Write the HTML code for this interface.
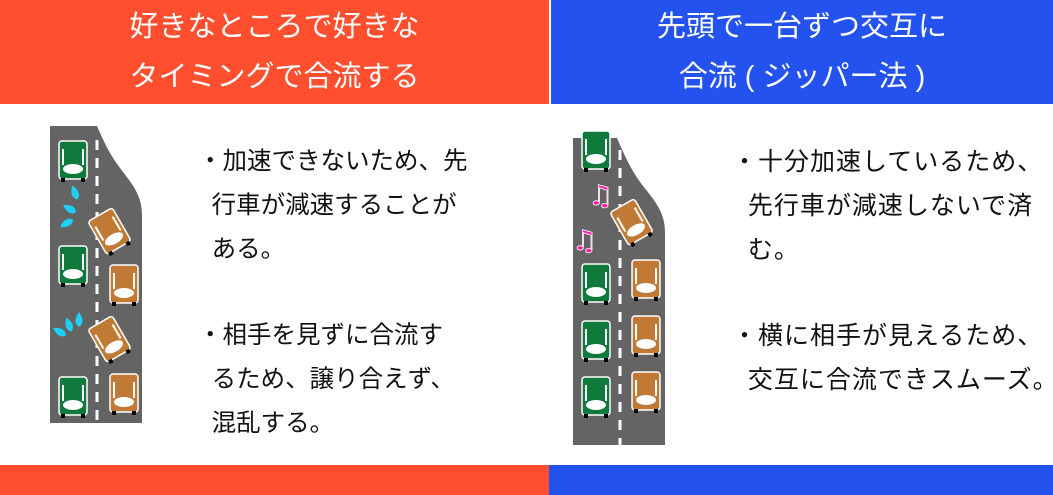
<!DOCTYPE html>
<html><head><meta charset="utf-8"><style>
html,body{margin:0;padding:0;width:1053px;height:495px;overflow:hidden;background:#fff;}
body{position:relative;font-family:"Liberation Sans","Noto Sans CJK JP",sans-serif;}
.h{position:absolute;top:0;height:104px;color:#fff;font-size:29px;text-align:center;line-height:50px;padding-top:2px;box-sizing:border-box;}
.t{position:absolute;font-size:24.5px;color:#111;line-height:44px;white-space:nowrap;}
.r{font-size:25px;letter-spacing:1px;}
svg{position:absolute;left:0;top:0;}
</style></head><body>
<div class="h" style="left:0;width:549px;background:#ff4f2e;">好きなところで好きな<br>タイミングで合流する</div>
<div class="h" style="left:551px;width:502px;background:#2352ee;">先頭で一台ずつ交互に<br>合流 ( ジッパー法 )</div>
<div style="position:absolute;left:0;top:465px;width:549px;height:30px;background:#ff4f2e"></div>
<div style="position:absolute;left:549px;top:465px;width:504px;height:30px;background:#2352ee"></div>

<div class="t" style="left:198px;top:140px;">・加速できないため、先<br>&nbsp;&nbsp;行車が減速することが<br>&nbsp;&nbsp;ある。</div>
<div class="t" style="left:198px;top:314px;">・相手を見ずに合流す<br>&nbsp;&nbsp;るため、譲り合えず、<br>&nbsp;&nbsp;混乱する。</div>
<div class="t r" style="left:732px;top:140px;">・十分加速しているため、<br>&nbsp;&nbsp;先行車が減速しないで済<br>&nbsp;&nbsp;む。</div>
<div class="t r" style="left:732px;top:314px;">・横に相手が見えるため、<br>&nbsp;&nbsp;交互に合流できスムーズ。</div>

<svg width="1053" height="495">
<defs>
<g id="car">
<rect x="-14" y="-20" width="28" height="38" rx="3" stroke="#fff" stroke-width="1.5"/>
<rect x="-12" y="17" width="4" height="4" fill="#000"/><rect x="8" y="17" width="4" height="4" fill="#000"/>
<path d="M-10,-12 v16 M10,-12 v16" stroke="#fff" stroke-width="2" fill="none"/>
<ellipse cx="0" cy="8" rx="10" ry="5" fill="#fff"/>
</g>
<g id="drop"><path d="M0,-8 Q7,2 0,7 Q-7,2 0,-8Z" fill="#1ed0f5"/></g>
</defs>
<path d="M50,126 L97,126 C103,140 110,155 120,168 C132,184 142,195 142,215 L142,423 L50,423Z" fill="#646464"/>
<line x1="97" y1="140" x2="97" y2="423" stroke="#fff" stroke-width="3" stroke-dasharray="10,8"/>
<use href="#car" x="73" y="161" fill="#0f7a3c"/>
<use href="#car" x="73" y="266" fill="#0f7a3c"/>
<use href="#car" x="73" y="397" fill="#0f7a3c"/>
<use href="#car" x="124" y="285" fill="#c17a35"/>
<use href="#car" x="124" y="394" fill="#c17a35"/>
<use href="#car" transform="translate(110,232) rotate(-30)" fill="#c17a35"/>
<use href="#car" transform="translate(110,340) rotate(-30)" fill="#c17a35"/>
<use href="#drop" transform="translate(75,193) rotate(-20)"/>
<use href="#drop" transform="translate(70,209) rotate(-60)"/>
<use href="#drop" transform="translate(67,223) rotate(-120)"/>
<use href="#drop" transform="translate(60,332) rotate(-60)"/>
<use href="#drop" transform="translate(69,325) rotate(-20)"/>
<use href="#drop" transform="translate(79,320)"/>
<path d="M573,138 L617,138 C623,152 630,168 640,182 C652,198 665,210 665,232 L665,445 L573,445Z" fill="#646464"/>
<line x1="620" y1="150" x2="620" y2="445" stroke="#fff" stroke-width="3" stroke-dasharray="10,8"/>
<use href="#car" x="596" y="151" fill="#0f7a3c"/>
<use href="#car" x="596" y="284" fill="#0f7a3c"/>
<use href="#car" x="596" y="341" fill="#0f7a3c"/>
<use href="#car" x="596" y="397" fill="#0f7a3c"/>
<use href="#car" x="646" y="280" fill="#c17a35"/>
<use href="#car" x="646" y="336" fill="#c17a35"/>
<use href="#car" x="646" y="392" fill="#c17a35"/>
<use href="#car" transform="translate(632,223) rotate(-30)" fill="#c17a35"/>
<text x="588" y="205" font-size="28" font-family="DejaVu Sans" fill="#ff1aa8" stroke="#fff" stroke-width="0.8">♫</text>
<text x="572" y="250" font-size="28" font-family="DejaVu Sans" fill="#ff1aa8" stroke="#fff" stroke-width="0.8">♫</text>
</svg>
</body></html>
